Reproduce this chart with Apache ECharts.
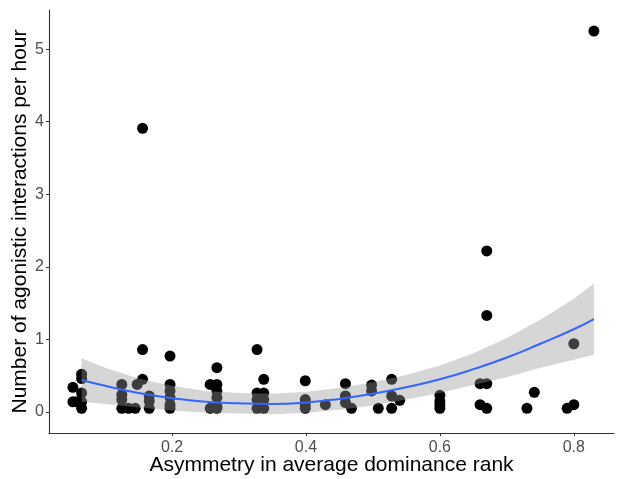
<!DOCTYPE html>
<html>
<head>
<meta charset="utf-8">
<script src="https://cdn.jsdelivr.net/npm/echarts@6/dist/echarts.min.js"></script>
<style>
  html, body { margin: 0; padding: 0; background: #fff; }
  #chart { width: 618px; height: 479px; }
</style>
</head>
<body>
<div id="chart"></div>
<script>
// observed points: asymmetry in rank vs agonistic interactions / hour
let pointX = [
  0.052, 0.052, 0.058, 0.065, 0.065, 0.065, 0.065, 0.065,
  0.125, 0.125, 0.125, 0.125, 0.135, 0.145, 0.148,
  0.156, 0.156, 0.156, 0.166, 0.166, 0.166,
  0.197, 0.197, 0.197, 0.197, 0.197, 0.197,
  0.257, 0.257, 0.267, 0.267, 0.267, 0.267, 0.267, 0.267,
  0.327, 0.327, 0.327, 0.327, 0.337, 0.337, 0.337, 0.337,
  0.399, 0.399, 0.399, 0.399, 0.429,
  0.459, 0.459, 0.459, 0.468, 0.498, 0.498, 0.508,
  0.528, 0.528, 0.528, 0.540,
  0.600, 0.600, 0.600, 0.600,
  0.660, 0.660, 0.670, 0.670, 0.670, 0.670,
  0.730, 0.741, 0.790, 0.800, 0.800, 0.830
];
let pointY = [
  0.34, 0.14, 0.14, 0.52, 0.46, 0.26, 0.14, 0.05,
  0.38, 0.24, 0.17, 0.05, 0.05, 0.05, 0.38,
  0.86, 0.45, 3.91, 0.22, 0.15, 0.05,
  0.77, 0.38, 0.29, 0.20, 0.10, 0.05,
  0.38, 0.05, 0.61, 0.38, 0.29, 0.20, 0.08, 0.05,
  0.86, 0.26, 0.17, 0.05, 0.45, 0.26, 0.17, 0.05,
  0.43, 0.17, 0.10, 0.05, 0.10,
  0.39, 0.22, 0.13, 0.05, 0.37, 0.29, 0.05,
  0.45, 0.22, 0.05, 0.16,
  0.23, 0.15, 0.10, 0.05,
  0.39, 0.10, 2.22, 1.33, 0.39, 0.05,
  0.05, 0.27, 0.05, 0.94, 0.10, 5.25
];

// fitted curve and its confidence band
let smoothX = [0.065, 0.1, 0.15, 0.2, 0.25, 0.3, 0.35, 0.4, 0.45, 0.5, 0.55, 0.6, 0.65, 0.7, 0.75, 0.8, 0.83];
let smoothY = [0.44, 0.36, 0.26, 0.19, 0.14, 0.12, 0.11, 0.13, 0.18, 0.25, 0.34, 0.45, 0.59, 0.75, 0.94, 1.14, 1.28];
let bandLow = [0.14, 0.11, 0.06, 0.02, -0.01, -0.02, -0.03, -0.01, 0.03, 0.09, 0.17, 0.26, 0.37, 0.48, 0.61, 0.72, 0.79];
let bandHigh = [0.74, 0.61, 0.46, 0.36, 0.29, 0.26, 0.25, 0.28, 0.33, 0.41, 0.51, 0.64, 0.81, 1.02, 1.27, 1.56, 1.77];

let xTicks = [0.2, 0.4, 0.6, 0.8];
let yTicks = [0, 1, 2, 3, 4, 5];

let chart = echarts.init(document.getElementById('chart'));

let axisCommon = {
  type: 'value',
  splitLine: {show: false},
  axisLine: {show: true, onZero: false, lineStyle: {color: '#333', width: 1.1}},
  nameLocation: 'middle',
  nameMoveOverlap: false,
  nameTextStyle: {color: '#000', fontSize: 21, fontFamily: 'Liberation Sans'}
};

let option = {
  animation: false,
  backgroundColor: '#fff',
  grid: {left: 49, right: 4, top: 10, bottom: 46, containLabel: false, outerBoundsMode: 'none'},
  xAxis: Object.assign({}, axisCommon, {
    min: 0.0163,
    max: 0.86,
    name: 'Asymmetry in average dominance rank',
    nameGap: 22,
    axisTick: {show: true, length: 3, lineStyle: {color: '#333'}, customValues: xTicks},
    axisLabel: {
      customValues: xTicks,
      color: '#4d4d4d', fontSize: 16, fontFamily: 'Liberation Sans', margin: 7,
      formatter: (v) => v.toFixed(1)
    }
  }),
  yAxis: Object.assign({}, axisCommon, {
    min: -0.29,
    max: 5.54,
    name: 'Number of agonistic interactions per hour',
    nameGap: 18,
    axisTick: {show: true, length: 3, lineStyle: {color: '#333'}, customValues: yTicks},
    axisLabel: {
      customValues: yTicks,
      color: '#4d4d4d', fontSize: 16, fontFamily: 'Liberation Sans', margin: 5
    }
  }),
  series: [
    {
      type: 'scatter',
      data: pointX.map((x, i) => [x, pointY[i]]),
      symbolSize: 11,
      itemStyle: {color: '#000', opacity: 1},
      z: 2
    },
    {
      // ribbon drawn over the points, like geom_smooth
      type: 'custom',
      data: [[0]],
      renderItem: (params, api) => {
        let upper = smoothX.map((x, i) => api.coord([x, bandHigh[i]]));
        let lower = smoothX.map((x, i) => api.coord([x, bandLow[i]])).reverse();
        return {
          type: 'polygon',
          shape: {points: upper.concat(lower)},
          style: {fill: 'rgba(153,153,153,0.4)'}
        };
      },
      silent: true,
      z: 3
    },
    {
      type: 'line',
      data: smoothX.map((x, i) => [x, smoothY[i]]),
      smooth: true,
      showSymbol: false,
      lineStyle: {color: '#3366FF', width: 2},
      z: 4
    }
  ]
};

chart.setOption(option);
</script>
</body>
</html>
